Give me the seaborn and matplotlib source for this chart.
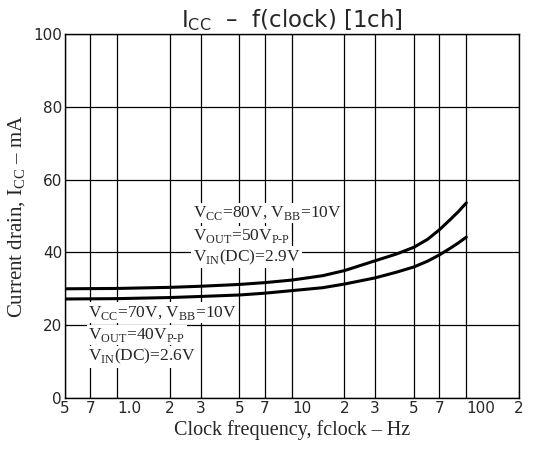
import numpy as np
import pandas as pd
import seaborn as sns
import matplotlib.pyplot as plt
from matplotlib.ticker import FixedLocator, FixedFormatter, NullLocator

# Dados
freq = [0.5, 1, 2, 3, 5, 7, 10, 15, 20, 30, 40, 50, 60, 70, 80, 90, 100]
icc_80v = [30.0, 30.1, 30.4, 30.7, 31.2, 31.7, 32.4, 33.6, 35.0, 37.7, 39.6, 41.4, 43.6, 46.2, 48.8, 51.2, 53.6]
icc_70v = [27.2, 27.3, 27.6, 27.9, 28.3, 28.8, 29.5, 30.3, 31.3, 33.0, 34.6, 36.0, 37.6, 39.3, 41.0, 42.6, 44.2]

xticks = [0.5, 0.7, 1, 2, 3, 5, 7, 10, 20, 30, 50, 70, 100, 200]
xtick_labels = ['5', '7', '1.0', '2', '3', '5', '7', '10', '2', '3', '5', '7', '100', '2']
yticks = [0, 20, 40, 60, 80, 100]

dataset = pd.DataFrame({
    'freq': freq * 2,
    'icc': icc_80v + icc_70v,
    'serie': ['80V'] * len(freq) + ['70V'] * len(freq),
})

sns.set_style('white')
plt.rcParams['font.family'] = ['DejaVu Sans']
plt.rcParams['mathtext.fontset'] = 'custom'
plt.rcParams['mathtext.rm'] = 'Liberation Serif'

fig = plt.figure(figsize=(5.36, 4.51), dpi=100)
ax = fig.add_axes([0.121, 0.1175, 0.847, 0.8071])

ax.set_xscale('log')
ax.set_xlim(0.5, 200)
ax.set_ylim(0, 100)

# grade
for xv in xticks:
    ax.axvline(xv, color='black', lw=0.9, zorder=1)
for yv in yticks:
    ax.axhline(yv, color='black', lw=0.9, zorder=1)

sns.lineplot(data=dataset, x='freq', y='icc', units='serie', estimator=None,
             color='black', lw=2.2, ax=ax, zorder=3)

ax.xaxis.set_major_locator(FixedLocator(xticks))
ax.xaxis.set_major_formatter(FixedFormatter(xtick_labels))
ax.xaxis.set_minor_locator(NullLocator())
ax.set_yticks(yticks)
ax.tick_params(axis='both', length=0, labelsize=11, pad=2)
for lab in ax.get_xticklabels():
    if lab.get_text() in ('1.0', '10', '100'):
        lab.set_horizontalalignment('left')

for s in ax.spines.values():
    s.set_color('black')
    s.set_linewidth(1)

serif = 'Liberation Serif'
ax.set_xlabel('Clock frequency, fclock – Hz', fontsize=14.5, family=serif, labelpad=3)
ax.set_ylabel(r'Current drain, I$_{\mathrm{CC}}$ – mA', fontsize=15, family=serif, labelpad=4)
ax.set_title('I$_{\\mathregular{CC}}$  –  f(clock) [1ch]', fontsize=16.5, pad=5)

box = dict(facecolor='white', edgecolor='none', pad=1)
txt_sup = [r'V$_{\mathrm{CC}}$=80V, V$_{\mathrm{BB}}$=10V',
           r'V$_{\mathrm{OUT}}$=50V$_{\mathrm{P\text{-}P}}$',
           r'V$_{\mathrm{IN}}$(DC)=2.9V']
txt_inf = [r'V$_{\mathrm{CC}}$=70V, V$_{\mathrm{BB}}$=10V',
           r'V$_{\mathrm{OUT}}$=40V$_{\mathrm{P\text{-}P}}$',
           r'V$_{\mathrm{IN}}$(DC)=2.6V']
for t, yv in zip(txt_sup, [50.8, 44.5, 38.7]):
    ax.text(2.7, yv, t, fontsize=12.5, family=serif, va='center', ha='left', bbox=box, zorder=4)
for t, yv in zip(txt_inf, [23.4, 17.3, 11.3]):
    ax.text(0.68, yv, t, fontsize=12.5, family=serif, va='center', ha='left', bbox=box, zorder=4)

plt.savefig('out.png', dpi=100)
